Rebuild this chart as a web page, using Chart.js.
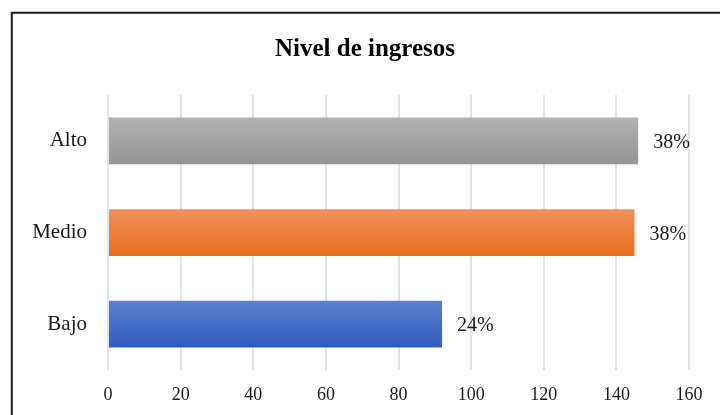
<!DOCTYPE html>
<html>
<head>
<meta charset="utf-8">
<script src="https://cdn.jsdelivr.net/npm/chart.js@4"></script>
<style>
  body { margin: 0; background: #fff; }
  canvas { display: block; }
</style>
</head>
<body>
<canvas id="ingresosChart" width="720" height="415"></canvas>
<script>
const categories = ["Alto", "Medio", "Bajo"];
const counts = [146, 145, 92];
const xTicks = [0, 20, 40, 60, 80, 100, 120, 140, 160];

// top/bottom colours of each bar's vertical gradient
const topColors = ["#b2b2b2", "#f2905a", "#5b80d0"];
const bottomColors = ["#949494", "#ea6d1d", "#2f5cbd"];

const serif = "'Liberation Serif', 'Times New Roman', serif";
const total = counts.reduce((a, b) => a + b, 0);
const BAR_PCT = 0.51;

function barGradient(context) {
  const chart = context.chart;
  const i = context.dataIndex;
  const yScale = chart.scales.y;
  if (!chart.chartArea || !yScale || i === undefined) return topColors[i] || "#999";
  const center = yScale.getPixelForValue(i);
  const half = (chart.chartArea.height / categories.length) * BAR_PCT / 2;
  const g = chart.ctx.createLinearGradient(0, center - half, 0, center + half);
  g.addColorStop(0, topColors[i]);
  g.addColorStop(1, bottomColors[i]);
  return g;
}

// outer frame of the chart box (runs off the right/bottom edge)
const framePlugin = {
  id: "frame",
  afterDraw(chart) {
    const ctx = chart.ctx;
    ctx.save();
    ctx.strokeStyle = "#1c1c1c";
    ctx.lineWidth = 2;
    ctx.beginPath();
    ctx.moveTo(11.8, 500);
    ctx.lineTo(11.8, 12.7);
    ctx.lineTo(800, 12.7);
    ctx.stroke();
    ctx.restore();
  }
};

// percentage share written to the right of each bar
const pctLabels = {
  id: "pctLabels",
  afterDatasetsDraw(chart) {
    const ctx = chart.ctx;
    const meta = chart.getDatasetMeta(0);
    ctx.save();
    ctx.font = "20px " + serif;
    ctx.fillStyle = "#1a1a1a";
    ctx.textAlign = "left";
    ctx.textBaseline = "middle";
    meta.data.forEach((bar, i) => {
      const pct = Math.round(counts[i] / total * 100) + "%";
      ctx.fillText(pct, bar.x + 15, bar.y + 2);
    });
    ctx.restore();
  }
};

new Chart(document.getElementById("ingresosChart"), {
  type: "bar",
  data: {
    labels: categories,
    datasets: [{
      data: counts,
      backgroundColor: barGradient,
      borderWidth: 0,
      barPercentage: BAR_PCT,
      categoryPercentage: 1
    }]
  },
  options: {
    indexAxis: "y",
    responsive: false,
    animation: false,
    layout: { padding: { left: 10, right: 0, top: 0, bottom: 0 } },
    plugins: {
      legend: { display: false },
      tooltip: { enabled: false },
      title: {
        display: true,
        text: "Nivel de ingresos",
        color: "#000",
        font: { family: serif, size: 25, weight: "bold" },
        padding: { top: 35, bottom: 30 }
      }
    },
    scales: {
      x: {
        min: xTicks[0],
        max: xTicks[xTicks.length - 1],
        afterBuildTicks(scale) {
          scale.ticks = xTicks.map(v => ({ value: v }));
        },
        afterFit(scale) {
          scale.height = 45;
          scale.paddingRight = 31;
        },
        grid: { color: "#dfe3ea", lineWidth: 2, drawTicks: false },
        border: { display: false },
        ticks: { color: "#1a1a1a", padding: 14, font: { family: serif, size: 18 } }
      },
      y: {
        afterFit(scale) {
          scale.width = 98;
        },
        grid: { display: false, drawTicks: false },
        border: { display: false },
        ticks: { color: "#1a1a1a", padding: 21, font: { family: serif, size: 21 } }
      }
    }
  },
  plugins: [framePlugin, pctLabels]
});
</script>
</body>
</html>
